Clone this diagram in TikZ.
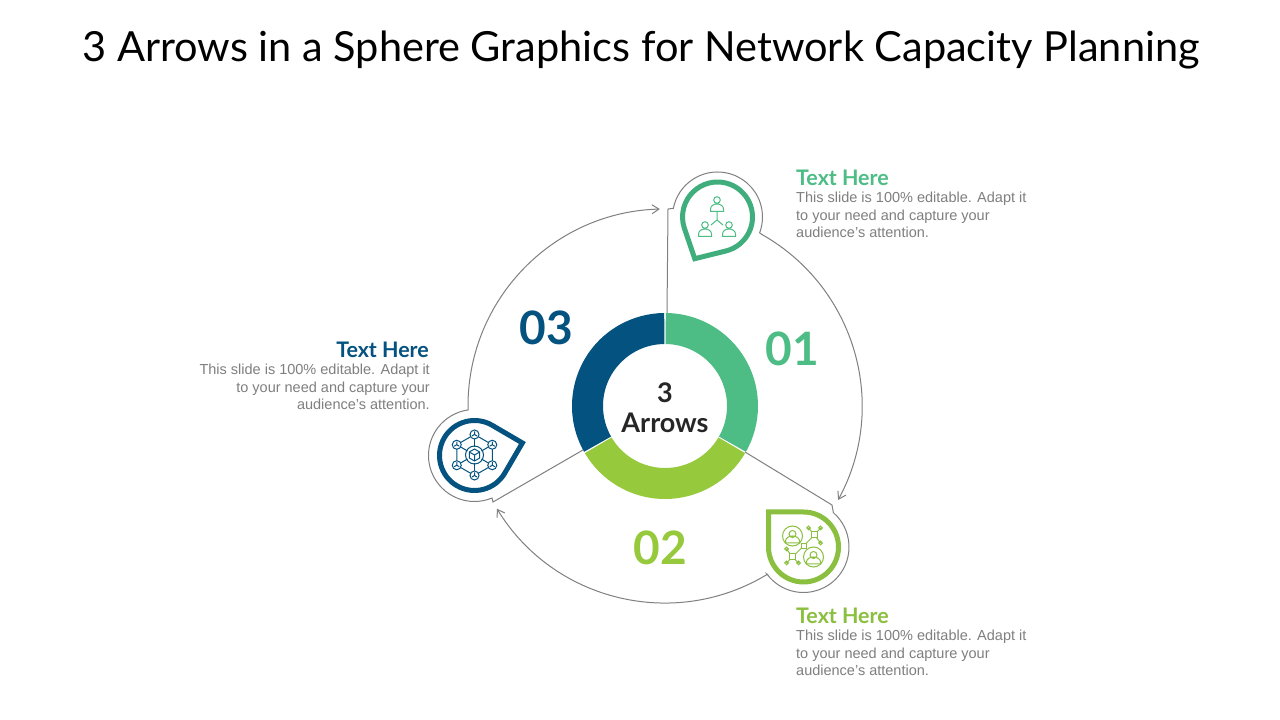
\documentclass[tikz,border=0pt]{standalone}
\usepackage{fontspec}
\setmainfont{Lato}
\newfontfamily\bodyfont{Liberation Sans}
\usetikzlibrary{arrows.meta,calc}
\definecolor{mintone}{HTML}{4DBD85}
\definecolor{mintpin}{HTML}{3FAE7C}
\definecolor{limetwo}{HTML}{97C93D}
\definecolor{limepin}{HTML}{8ABF3F}
\definecolor{navythree}{HTML}{04527F}
\definecolor{greytext}{HTML}{7F7F7F}
\tikzset{
	ringline/.style={line width=1pt, color=black!50},
	ringtip/.style={-{Straight Barb[length=7pt,width=9pt]}},
	pinline/.style={line width=5pt, miter limit=10, line join=miter},
	iconline/.style={line width=1pt},
	heading/.style={anchor=base west, inner sep=0pt, font=\fontsize{21.4}{21.4}\selectfont\bfseries},
	blurb/.style={inner sep=0pt, color=greytext, font=\bodyfont\fontsize{14.5}{17.6}\selectfont},
	bignum/.style={inner sep=0pt, font=\fontsize{46}{46}\selectfont\bfseries}
}
\def\donutseg(#1:#2)[#3]{\fill[#3] ($(hub)+(#1:93)$) arc (#1:#2:93) -- ($(hub)+(#2:62)$) arc (#2:#1:62) -- cycle;}
\def\pinshape(#1)(#2:#3)[#4]{\draw[pinline, color=#4, shift={(#1)}, rotate=#2] (#3,0) -- ({acos(35/#3)}:35) arc ({acos(35/#3)}:{360-acos(35/#3)}:35) -- cycle;}
\def\persontop(#1,#2)[#3]{\draw[iconline, color=#3, shift={(#1,#2)}] (0,0) circle (3.3) (-6.5,-11.5) -- (6.5,-11.5) -- (6.5,-9) arc (0:180:6.5 and 5) -- cycle;}
\def\cubedot(#1:#2)[#3]{\begin{scope}[shift={(#1:#2)}]
	\draw[iconline, color=#3, fill=white] (0,0) circle (4.5);
	\draw[iconline, color=#3] (0,0) -- (90:3) (0,0) -- (210:3) (0,0) -- (330:3);
\end{scope}}

\begin{document}
\begin{tikzpicture}[x=1pt,y=1pt]
	%%%%% START %%%%%
	\useasboundingbox (0,0) rectangle (1280,720);
	\fill[white] (0,0) rectangle (1280,720);
	\coordinate (hub) at (665,314);
	\coordinate (pinone) at (717.5,503);
	\coordinate (pintwo) at (803.5,173);
	\coordinate (pinthree) at (474.5,264.5);

	\node[inner sep=0pt, font=\fontsize{41.5}{41.5}\selectfont] (title) at (641,670) {3 Arrows in a Sphere Graphics for Network Capacity Planning};

	% ring
	\donutseg(89.5:-29.5)[mintone];
	\donutseg(-30.5:-149.5)[limetwo];
	\donutseg(209.5:90.5)[navythree];
	\node[align=center, inner sep=0pt, font=\fontsize{27}{30}\selectfont\bfseries, color=black!85] (centre) at (665,312) {3\\Arrows};

	% outlines
	\draw[ringline, ringtip] (667,407) -- (668,511) -- ($(pinone)+(169:45)$) arc (169:-20.6:45) -- ($(hub)+(60.4:197)$) arc (60.4:-28.5:197);
	\draw[ringline, ringtip] (745,268) -- (832,215) -- ($(pintwo)+(49:45.5)$) arc (49:-143.5:45.5) -- ($(hub)+(-58.7:197)$) arc (-58.7:-148.6:197);
	\draw[ringline, ringtip] (583,270) -- (493,218) -- ($(pinthree)+(-67.6:46)$) arc (-67.6:-262:46) -- ($(hub)+(178:197)$) arc (178:91.5:197);

	\pinshape(pinone)(241.4:47.5)[mintpin];
	\pinshape(pintwo)(135:49.5)[limepin];
	\pinshape(pinthree)(14.7:49.5)[navythree];

	% icon 1
	\persontop(717,520)[mintone];
	\persontop(705,495)[mintone];
	\persontop(729,495)[mintone];
	\draw[iconline, color=mintone] (717,508) -- (717,500) -- (711,495) (717,500) -- (723,495);

	% icon 2
	\begin{scope}[shift={(pintwo)}]
		\draw[iconline, color=limepin] (-11,11) circle (10) (10,-10) circle (10);
		\draw[iconline, color=limepin] (-11,13) circle (3.5) (-18,4) -- (-4,4) -- (-4,6) arc (0:180:7 and 5) -- cycle;
		\draw[iconline, color=limepin] (10,-8) circle (3.5) (3,-17) -- (17,-17) -- (17,-15) arc (0:180:7 and 5) -- cycle;
		\foreach \dx/\dy in {5/19, 17/19, 17/4}
			\draw[iconline, color=limepin] (11,12) -- (\dx,\dy) (\dx,\dy) circle (1.8);
		\foreach \dx/\dy in {-17/-2, -17/-16, -5/-16}
			\draw[iconline, color=limepin] (-11,-10) -- (\dx,\dy) (\dx,\dy) circle (1.8);
		\draw[iconline, color=limepin] (-11,-10) -- (11,12);
		\draw[iconline, color=limepin, fill=white] (-2.5,-1.5) rectangle (2.5,3.5);
		\draw[iconline, color=limepin, fill=white] (8,9) rectangle (14,15);
		\draw[iconline, color=limepin, fill=white] (-14,-13) rectangle (-8,-7);
	\end{scope}

	% icon 3
	\begin{scope}[shift={(474.5,265)}]
		\draw[iconline, color=navythree] (30:20.5) -- (90:20.5) -- (150:20.5) -- (210:20.5) -- (270:20.5) -- (330:20.5) -- cycle;
		\foreach \a in {30,90,...,330}
			\draw[iconline, color=navythree] (\a:8) -- (\a:20.5);
		\draw[iconline, color=navythree] (0,0) circle (9);
		\draw[iconline, color=navythree] (30:6) -- (90:6) -- (150:6) -- (210:6) -- (270:6) -- (330:6) -- cycle;
		\draw[iconline, color=navythree] (0,0) -- (150:6) (0,0) -- (30:6) (0,0) -- (270:6);
		\foreach \a in {30,90,...,330}
			{\cubedot(\a:20.5)[navythree];}
	\end{scope}

	% numbers
	\node[bignum, color=mintone] (numone) at (792,371) {01};
	\node[bignum, color=limetwo] (numtwo) at (660,172) {02};
	\node[bignum, color=navythree] (numthree) at (546,392) {03};

	% texts
	\node[heading, color=mintone] (headone) at (796,534) {Text Here};
	\node[blurb, anchor=north west, align=left] (blurbone) at (796,528) {This slide is 100\% editable. Adapt it\\to your need and capture your\\audience’s attention.};

	\node[heading, color=limepin] (headtwo) at (796,96) {Text Here};
	\node[blurb, anchor=north west, align=left] (blurbtwo) at (796,90) {This slide is 100\% editable. Adapt it\\to your need and capture your\\audience’s attention.};

	\node[heading, anchor=base east, color=navythree] (headthree) at (429,362) {Text Here};
	\node[blurb, anchor=north east, align=right] (blurbthree) at (430,356) {This slide is 100\% editable. Adapt it\\to your need and capture your\\audience’s attention.};
	%%%%% END %%%%%
\end{tikzpicture}
\end{document}
